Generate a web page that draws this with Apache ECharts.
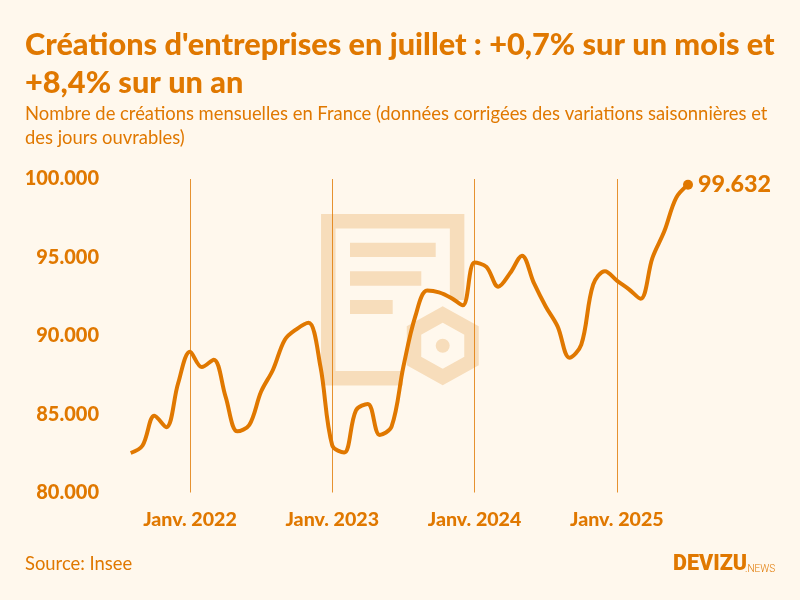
<!DOCTYPE html>
<html>
<head>
<meta charset="utf-8">
<style>
html, body { margin: 0; padding: 0; background: #fff8ed; }
#chart { width: 800px; height: 600px; }
</style>
<script src="https://cdn.jsdelivr.net/npm/echarts@6/dist/echarts.min.js"></script>
</head>
<body>
<div id="chart"></div>
<script>
var months = [
  'Août 2021', 'Sept. 2021', 'Oct. 2021', 'Nov. 2021', 'Déc. 2021',
  'Janv. 2022', 'Févr. 2022', 'Mars 2022', 'Avr. 2022', 'Mai 2022', 'Juin 2022', 'Juil. 2022', 'Août 2022', 'Sept. 2022', 'Oct. 2022', 'Nov. 2022', 'Déc. 2022',
  'Janv. 2023', 'Févr. 2023', 'Mars 2023', 'Avr. 2023', 'Mai 2023', 'Juin 2023', 'Juil. 2023', 'Août 2023', 'Sept. 2023', 'Oct. 2023', 'Nov. 2023', 'Déc. 2023',
  'Janv. 2024', 'Févr. 2024', 'Mars 2024', 'Avr. 2024', 'Mai 2024', 'Juin 2024', 'Juil. 2024', 'Août 2024', 'Sept. 2024', 'Oct. 2024', 'Nov. 2024', 'Déc. 2024',
  'Janv. 2025', 'Févr. 2025', 'Mars 2025', 'Avr. 2025', 'Mai 2025', 'Juin 2025', 'Juil. 2025'
];
var creations = [
  82520, 83000, 84900, 84170, 86970,
  88980, 88000, 88470, 86120, 83900, 84300, 86440, 87830, 89750, 90430, 90830, 88040,
  83000, 82550, 85240, 85650, 83670, 84200, 88040, 91230, 92880, 92770, 92430, 91940,
  94670, 94400, 93130, 94000, 95110, 93370, 91870, 90600, 88600, 89430, 93260, 94120,
  93520, 92980, 92360, 94970, 96660, 98800, 99632
];
var titleText = "Créations d'entreprises en juillet : +0,7% sur un mois et\n+8,4% sur un an";
var subtitleText = 'Nombre de créations mensuelles en France (données corrigées des variations saisonnières et\ndes jours ouvrables)';
var sourceText = 'Source: Insee';

var orange = '#e07800';
var mark = '#f7ddbb';
var bg = '#fff8ed';
var font = 'Lato';

function dots(v) {
  return String(v).replace(/\B(?=(\d{3})+$)/g, '.');
}
function isJanuary(i, name) {
  return name.indexOf('Janv') === 0;
}

var chart = echarts.init(document.getElementById('chart'));
chart.setOption({
  backgroundColor: bg,
  animation: false,
  textStyle: { fontFamily: font },
  title: [{
    text: titleText,
    left: 20, top: 21,
    textStyle: { color: orange, fontSize: 30.7, fontWeight: 900, fontFamily: font, lineHeight: 38 }
  }, {
    text: subtitleText,
    left: 20, top: 97,
    textStyle: { color: orange, fontSize: 18.4, fontWeight: 'normal', fontFamily: font, lineHeight: 24 }
  }, {
    text: sourceText,
    left: 20, top: 550,
    textStyle: { color: orange, fontSize: 18.4, fontWeight: 'normal', fontFamily: font }
  }],
  grid: { left: 130.7, right: 112, top: 179, height: 313.5 },
  xAxis: {
    type: 'category',
    data: months,
    boundaryGap: false,
    axisLine: { show: false },
    axisTick: { show: false },
    axisLabel: {
      interval: isJanuary,
      margin: 17,
      color: orange, fontSize: 19.6, fontWeight: 900, fontFamily: font,
      formatter: function (v) { return v; }
    },
    splitLine: { show: true, interval: isJanuary, lineStyle: { color: orange, width: 1, opacity: 0.8 } }
  },
  yAxis: {
    type: 'value',
    min: 80000, max: 100000, interval: 5000,
    axisLine: { show: false },
    axisTick: { show: false },
    splitLine: { show: false },
    axisLabel: {
      margin: 31.7,
      color: orange, fontSize: 20, fontWeight: 900, fontFamily: font,
      formatter: dots
    }
  },
  graphic: [
    // filigrane document + hexagone
    { type: 'polyline', z: -1, shape: { points: [[403, 378.3], [328.3, 378.3], [328.3, 221.2], [457.1, 221.2], [457.1, 300]] }, style: { fill: null, stroke: mark, lineWidth: 14.5 } },
    { type: 'rect', z: -1, shape: { x: 350, y: 242.7, width: 85.7, height: 14.3 }, style: { fill: mark } },
    { type: 'rect', z: -1, shape: { x: 350, y: 271.3, width: 71.3, height: 14.4 }, style: { fill: mark } },
    { type: 'rect', z: -1, shape: { x: 350, y: 300, width: 42.7, height: 14 }, style: { fill: mark } },
    { type: 'polygon', z: -1, shape: { points: [[442.7, 314.5], [471.5, 330.5], [471.5, 361], [442.7, 377], [414, 361], [414, 330.5]] }, style: { fill: null, stroke: mark, lineWidth: 14.5 } },
    { type: 'circle', z: -1, shape: { cx: 442.7, cy: 345.7, r: 7 }, style: { fill: mark } },
    // logo
    { type: 'text', left: 673, top: 554, style: { text: 'DEVIZU', fill: orange, fontFamily: 'Roboto', fontWeight: 900, fontSize: 21.5 } },
    { type: 'text', left: 745, top: 564, style: { text: '.NEWS', fill: orange, fontFamily: 'Roboto', fontWeight: 300, fontSize: 10 } }
  ],
  series: [{
    type: 'line',
    data: creations,
    smooth: 0.35,
    showAllSymbol: true,
    symbol: 'circle',
    symbolSize: function (v, p) { return p.dataIndex === creations.length - 1 ? 10 : 0; },
    itemStyle: { color: orange },
    lineStyle: { color: orange, width: 4 },
    endLabel: {
      show: true,
      distance: 10,
      color: orange, fontSize: 23.3, fontWeight: 900, fontFamily: font,
      formatter: function (p) { return dots(p.value); }
    }
  }]
});
</script>
</body>
</html>
